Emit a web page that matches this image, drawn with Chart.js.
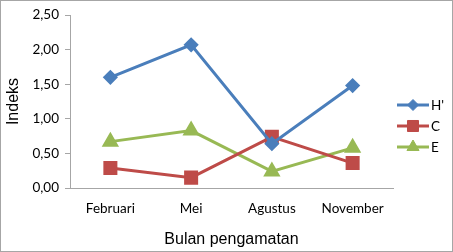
<!DOCTYPE html>
<html>
<head>
<meta charset="utf-8">
<script src="https://cdn.jsdelivr.net/npm/chart.js@4/dist/chart.umd.min.js"></script>
<style>
  html, body { margin: 0; padding: 0; background: #fff; }
  #wrap { width: 453px; height: 252px; }
</style>
</head>
<body>
<div id="wrap"><canvas id="chart" width="453" height="252"></canvas></div>
<script>
// data
const months = ["Februari", "Mei", "Agustus", "November"];
const hValues = [1.60, 2.07, 0.64, 1.48];
const cValues = [0.29, 0.15, 0.74, 0.36];
const eValues = [0.67, 0.83, 0.24, 0.58];
const seriesNames = ["H'", "C", "E"];

const tickFont = { family: "Lato, 'Open Sans', sans-serif", size: 13.5 };
const titleFont = { family: "'Liberation Sans', Arial, sans-serif", size: 16 };

// frame round the whole picture + legend on the right
const framePlugin = {
    id: 'frame',
    afterDraw(chart) {
        const ctx = chart.ctx;
        ctx.save();
        ctx.strokeStyle = '#a6a6a6';
        ctx.lineWidth = 1;
        ctx.strokeRect(0.5, 0.5, chart.width - 1, chart.height - 1);

        // legend
        const ys = [105, 126, 147];
        chart.data.datasets.forEach((ds, i) => {
            const y = ys[i];
            ctx.strokeStyle = ds.borderColor;
            ctx.lineWidth = 3;
            ctx.beginPath();
            ctx.moveTo(397, y);
            ctx.lineTo(429, y);
            ctx.stroke();
            ctx.fillStyle = ds.pointBackgroundColor;
            ctx.strokeStyle = ds.pointBorderColor;
            ctx.lineWidth = 1;
            Chart.helpers.drawPoint(ctx, {
                pointStyle: ds.pointStyle,
                radius: ds.pointRadius,
                rotation: 0,
                borderWidth: 1
            }, 413, y);
            ctx.fillStyle = '#000';
            ctx.font = "13.5px Lato, 'Open Sans', sans-serif";
            ctx.textBaseline = 'middle';
            ctx.textAlign = 'left';
            ctx.fillText(ds.label, 431, y + 1);
        });
        ctx.restore();
    }
};

function makeSet(label, data, color, style, radius) {
    return {
        label: label,
        data: data,
        borderColor: color,
        backgroundColor: color,
        pointBackgroundColor: color,
        pointBorderColor: color,
        pointStyle: style,
        pointRadius: radius,
        pointHoverRadius: radius,
        borderWidth: 3,
        tension: 0
    };
}

new Chart(document.getElementById('chart'), {
    type: 'line',
    data: {
        labels: months,
        datasets: [
            makeSet(seriesNames[0], hValues, '#4a7ebb', 'rectRot', 5.5),
            makeSet(seriesNames[1], cValues, '#be4b48', 'rect', 7.8),
            makeSet(seriesNames[2], eValues, '#98b954', 'triangle', 7)
        ]
    },
    options: {
        responsive: false,
        animation: false,
        devicePixelRatio: 1,
        layout: { padding: { left: 0, top: 15, right: 60, bottom: 0 } },
        plugins: {
            legend: { display: false },
            tooltip: { enabled: false }
        },
        scales: {
            x: {
                offset: true,
                grid: { display: false },
                border: { display: true, color: '#a6a6a6', width: 1 },
                ticks: { color: '#000', font: tickFont, padding: 5, maxRotation: 0 },
                title: {
                    display: true,
                    text: 'Bulan pengamatan',
                    color: '#000',
                    font: titleFont,
                    padding: { top: 10, bottom: 3 }
                },
                afterFit(scale) { scale.height = 64; }
            },
            y: {
                min: 0,
                max: 2.5,
                ticks: {
                    stepSize: 0.5,
                    color: '#000',
                    font: tickFont,
                    padding: 6,
                    callback: v => v.toFixed(2).replace('.', ',')
                },
                grid: {
                    drawOnChartArea: false,
                    drawTicks: true,
                    tickLength: 5,
                    color: '#a6a6a6'
                },
                border: { display: true, color: '#a6a6a6', width: 1 },
                title: {
                    display: true,
                    text: 'Indeks',
                    color: '#000',
                    font: titleFont,
                    padding: { top: 4, bottom: 0 }
                },
                afterFit(scale) { scale.width = 70; }
            }
        }
    },
    plugins: [framePlugin]
});
</script>
</body>
</html>
